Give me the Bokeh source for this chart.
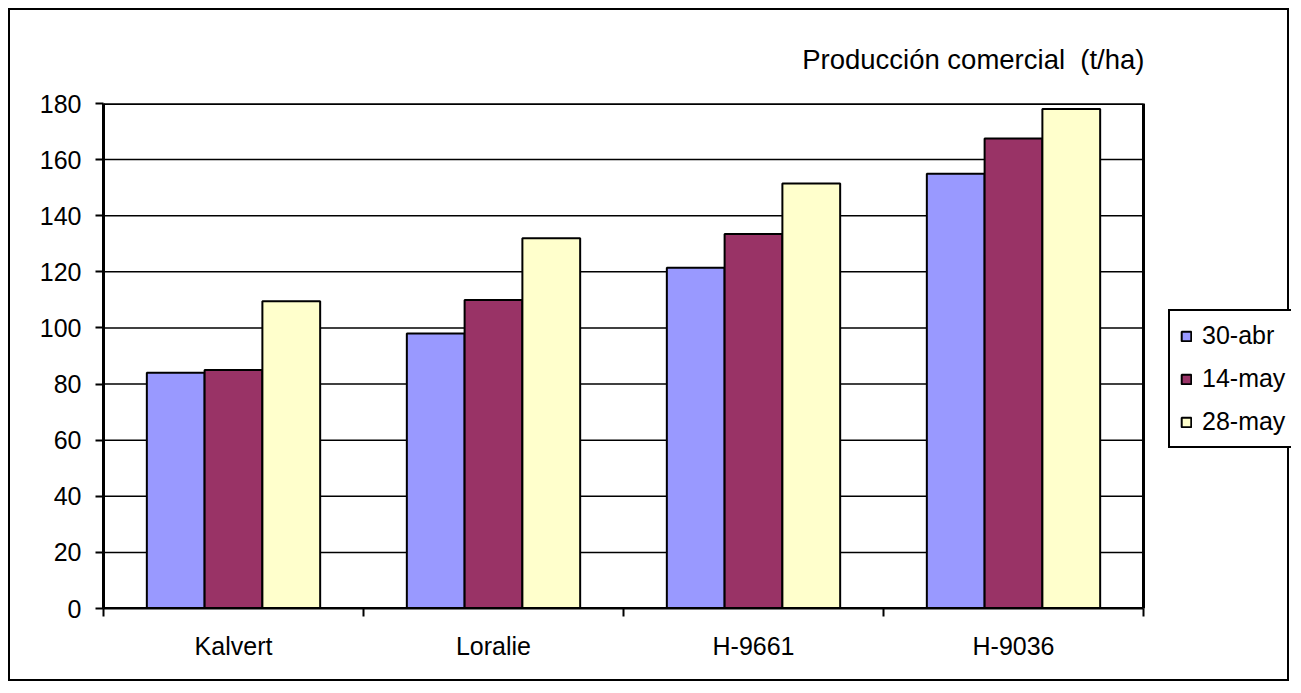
from bokeh.plotting import figure
from bokeh.models import ColumnDataSource, FixedTicker, Legend, LegendItem, Range1d, Title
from bokeh.transform import dodge
from bokeh.embed import file_html
from bokeh.resources import INLINE

# ---- data ----
categories = ["Kalvert", "Loralie", "H-9661", "H-9036"]
series_names = ["30-abr", "14-may", "28-may"]
abr30 = [84, 98, 121.5, 155]
may14 = [85, 110, 133.5, 167.5]
may28 = [109.5, 132, 151.5, 178]
y_ticks = [0, 20, 40, 60, 80, 100, 120, 140, 160, 180]
title_text = "Producción comercial\u00a0 (t/ha)"
colors = ["#9999FF", "#993366", "#FFFFCC"]

FONT = "Liberation Sans"
n = len(categories)
ymax = y_ticks[-1]
x_centers = [i + 0.5 for i in range(n)]
boundaries = [float(i) for i in range(n + 1)]
bar_w = 1 / 4.5

# layout (pixels)
W, H = 1281, 673
LEFT, TOP, BOTTOM = 93, 93, 75
PLOT_W = 1040                      # width of the plot area inside the frame
FRAME_W = W - LEFT                 # frame extends to the right edge (room for legend)

src = ColumnDataSource(dict(x=x_centers, abr30=abr30, may14=may14, may28=may28))
grid_src = ColumnDataSource(dict(y=y_ticks[1:], x0=[0] * (len(y_ticks) - 1),
                                 x1=[n] * (len(y_ticks) - 1)))

p = figure(width=W, height=H, output_backend="svg", toolbar_location=None,
           x_range=Range1d(0, n * FRAME_W / PLOT_W), y_range=Range1d(0, ymax),
           min_border_left=LEFT, min_border_right=0, min_border_top=TOP,
           min_border_bottom=BOTTOM, background_fill_color="white",
           border_fill_color="white")
p.styles = {"border": "2px solid black", "margin-left": "8px", "margin-top": "8px"}
p.outline_line_color = None
p.xgrid.visible = False
p.ygrid.visible = False

p.title = Title(text=title_text, align="right", text_font_size="27.5px",
                text_font=FONT, text_font_style="normal", text_color="black",
                standoff=57, offset=FRAME_W - PLOT_W - 1)

# horizontal gridlines limited to the plot area
p.segment(x0="x0", x1="x1", y0="y", y1="y", source=grid_src,
          line_color="black", line_width=1.5)

cols = ["abr30", "may14", "may28"]
offsets = [-bar_w, 0.0, bar_w]
renderers = []
for c, off, colr in zip(cols, offsets, colors):
    r = p.vbar(x=dodge("x", off, range=p.x_range), top=c, width=bar_w, bottom=0,
               source=src, fill_color=colr, line_color="black", line_width=2)
    renderers.append(r)

# plot-area border
p.quad(left=0, right=n, bottom=0, top=ymax, fill_color=None,
       line_color="black", line_width=3)

# y axis
ya = p.yaxis[0]
ya.ticker = FixedTicker(ticks=y_ticks)
ya.major_tick_out = 8
ya.major_tick_in = 0
ya.minor_tick_line_color = None
ya.major_tick_line_color = "black"
ya.major_tick_line_width = 2
ya.axis_line_color = "black"
ya.axis_line_width = 3
ya.major_label_text_font = FONT
ya.major_label_text_font_size = "25px"
ya.major_label_text_color = "black"
ya.major_label_standoff = 14

# x axis: labels at centres, ticks at boundaries
xa = p.xaxis[0]
xa.bounds = (0, n)
xa.ticker = FixedTicker(ticks=x_centers, minor_ticks=boundaries)
xa.major_label_overrides = {xc: cat for xc, cat in zip(x_centers, categories)}
xa.major_tick_line_color = None
xa.major_tick_out = 0
xa.major_tick_in = 0
xa.minor_tick_out = 8
xa.minor_tick_in = 0
xa.minor_tick_line_color = "black"
xa.minor_tick_line_width = 2
xa.axis_line_color = "black"
xa.axis_line_width = 2
xa.major_label_text_font = FONT
xa.major_label_text_font_size = "25px"
xa.major_label_text_color = "black"
xa.major_label_standoff = 15

legend = Legend(items=[LegendItem(label=s, renderers=[r]) for s, r in zip(series_names, renderers)],
                location=(PLOT_W + 25, 160), orientation="vertical",
                border_line_color="black", border_line_width=2, border_line_alpha=1,
                background_fill_color="white", background_fill_alpha=1,
                label_text_font=FONT, label_text_font_size="25px",
                label_text_color="black",
                glyph_width=12, glyph_height=12, label_standoff=10,
                padding=10, spacing=14, margin=0)
p.add_layout(legend, "center")

open("out.html", "w").write(file_html(p, INLINE))
